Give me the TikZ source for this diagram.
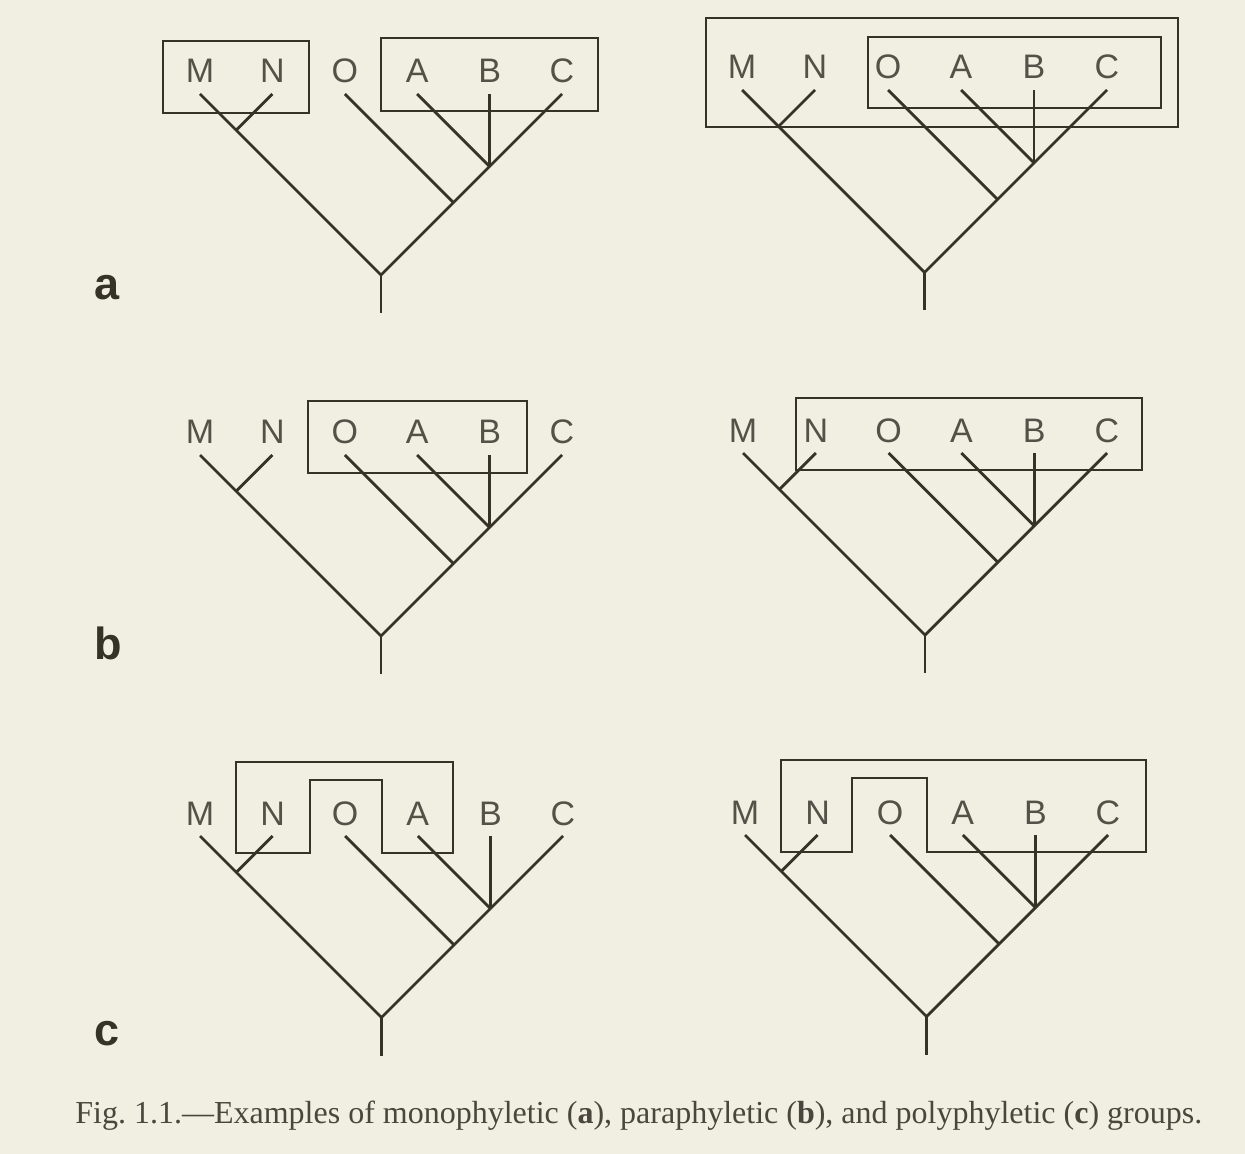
\documentclass[tikz,border=0pt]{standalone}
\usepackage{fontspec}
\setmainfont{Liberation Serif}
\newfontfamily\labfont{Liberation Sans}
\definecolor{bg}{RGB}{241,239,226}
\definecolor{ink}{RGB}{55,50,40}
\tikzset{
  branch/.style={draw=ink, line width=1.4pt, line cap=butt},
  grpbox/.style={draw=ink, line width=1pt},
  lab/.style={font=\labfont\fontsize{17}{17}\selectfont, anchor=base, inner sep=0pt, text=ink!85},
  panel/.style={font=\labfont\bfseries\fontsize{22.5}{22.5}\selectfont, anchor=base, inner sep=0pt, text=ink},
}
\newcommand{\cladotree}[4]{%
  \foreach \k/\lbl in {0/M,1/N,2/O,3/A,4/B,5/C} {
    \coordinate (#1-\lbl) at ({#2+\k*#4},#3);
    \node[lab] (#1-l\lbl) at ({#2+\k*#4},{#3-11}) {\lbl};
  }
  \coordinate (#1-r) at ({#2+2.5*#4},{#3+2.5*#4});
  \coordinate (#1-s) at ({#2+2.5*#4},{#3+2.5*#4+38});
  \coordinate (#1-mn) at ({#2+0.5*#4},{#3+0.5*#4});
  \coordinate (#1-oj) at ({#2+3.5*#4},{#3+1.5*#4});
  \coordinate (#1-abc) at ({#2+4*#4},{#3+#4});
  \draw[branch] (#1-M) -- (#1-r) -- (#1-C);
  \draw[branch] (#1-N) -- (#1-mn);
  \draw[branch] (#1-O) -- (#1-oj);
  \draw[branch] (#1-A) -- (#1-abc);
  \draw[branch] (#1-B) -- (#1-abc);
  \draw[branch] (#1-r) -- (#1-s);
}
\begin{document}
\begin{tikzpicture}[x=0.5pt, y=-0.5pt]
\useasboundingbox (0,0) rectangle (1245,1154);
\fill[bg] (0,0) rectangle (1245,1154);

% a
\cladotree{ta}{200}{94}{72.4}
\cladotree{tb}{742}{90}{73}
\draw[grpbox] (163,41) rectangle (309,113);
\draw[grpbox] (381,38) rectangle (598,111);
\draw[grpbox] (706,18) rectangle (1178,127);
\draw[grpbox] (868,37) rectangle (1161,108);

% b
\cladotree{tc}{200}{455}{72.4}
\cladotree{td}{743}{453}{72.8}
\draw[grpbox] (308,401) rectangle (527,473);
\draw[grpbox] (796,398) rectangle (1142,470);

% c
\cladotree{te}{200}{836}{72.6}
\cladotree{tf}{745}{835}{72.6}
\draw[grpbox] (236,762) -- (453,762) -- (453,853) -- (382,853) -- (382,780) -- (310,780) -- (310,853) -- (236,853) -- cycle;
\draw[grpbox] (781,760) -- (1146,760) -- (1146,852) -- (927,852) -- (927,778) -- (852,778) -- (852,852) -- (781,852) -- cycle;

% panel letters
\node[panel] (pa) at (107,300) {a};
\node[panel] (pb) at (108,659) {b};
\node[panel] (pc) at (107,1045) {c};

% caption
\node[anchor=base west, inner sep=0pt, text=ink!90, font=\fontsize{16}{16}\selectfont] (cap) at (75,1123)
  {Fig.\ 1.1.---Examples of monophyletic (\textbf{a}), paraphyletic (\textbf{b}), and polyphyletic (\textbf{c}) groups.};
\end{tikzpicture}
\end{document}
